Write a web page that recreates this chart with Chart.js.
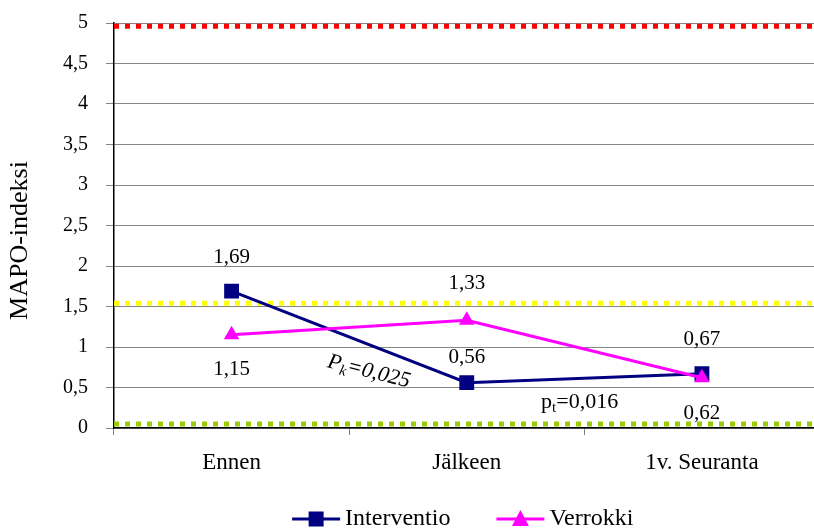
<!DOCTYPE html>
<html>
<head>
<meta charset="utf-8">
<script src="https://cdn.jsdelivr.net/npm/chart.js@4"></script>
<style>
  body { margin: 0; overflow: hidden; background: #fff; }
</style>
</head>
<body>
<canvas id="mapo" width="830" height="530"></canvas>
<script>
const categories = ['Ennen', 'Jälkeen', '1v. Seuranta'];
const interventio = [1.69, 0.56, 0.67];
const verrokki = [1.15, 1.33, 0.62];
const yTicks = [0, 0.5, 1, 1.5, 2, 2.5, 3, 3.5, 4, 4.5, 5];
const yTitle = 'MAPO-indeksi';
// dotted reference levels: red, yellow, green
const refLevels = [4.96, 1.54, 0.05];
const refColors = ['#ff0000', '#ffff00', '#99cc00'];

const FONT = '"Liberation Serif", "Times New Roman", serif';
const fmt = v => String(v).replace('.', ',');

function drawMarker(ctx, style, cx, cy, color) {
    ctx.fillStyle = color;
    if (style === 'rect') {
        ctx.fillRect(cx - 7.5, cy - 7.5, 15, 15);
    } else {
        ctx.beginPath();
        ctx.moveTo(cx, cy - 9);
        ctx.lineTo(cx + 8.5, cy + 7);
        ctx.lineTo(cx - 8.5, cy + 7);
        ctx.closePath();
        ctx.fill();
    }
}

const annotations = {
    id: 'annotations',
    beforeDatasetsDraw(chart) {
        const { ctx, chartArea } = chart;
        const y = chart.scales.y;
        ctx.save();
        ctx.lineWidth = 5;
        ctx.setLineDash([5, 6]);
        refLevels.forEach((lvl, i) => {
            const py = y.getPixelForValue(lvl);
            ctx.strokeStyle = refColors[i];
            ctx.beginPath();
            ctx.moveTo(chartArea.left, py);
            ctx.lineTo(chartArea.right, py);
            ctx.stroke();
        });
        ctx.restore();

        // y axis title, a bit below the middle as in the original
        ctx.save();
        ctx.translate(20, (chartArea.top + chartArea.bottom) / 2 + 15);
        ctx.rotate(-Math.PI / 2);
        ctx.font = '26px ' + FONT;
        ctx.fillStyle = '#000';
        ctx.textAlign = 'center';
        ctx.textBaseline = 'middle';
        ctx.fillText(yTitle, 0, 0);
        ctx.restore();
    },
    afterDatasetsDraw(chart, args, opts) {
        const { ctx } = chart;
        const x = chart.scales.x, y = chart.scales.y;
        ctx.save();
        ctx.fillStyle = '#000';
        ctx.font = '21px ' + FONT;
        ctx.textAlign = 'center';
        ctx.textBaseline = 'middle';
        chart.data.datasets.forEach((ds, di) => {
            const meta = chart.getDatasetMeta(di);
            meta.data.forEach((pt, i) => {
                ctx.fillText(fmt(ds.data[i]), pt.x, pt.y + opts.offsets[di][i]);
            });
        });

        // P_k = 0,025 (italic, rotated)
        ctx.save();
        ctx.translate(x.getPixelForValue(0.585), y.getPixelForValue(0.71));
        ctx.rotate(14 * Math.PI / 180);
        ctx.textAlign = 'left';
        ctx.textBaseline = 'alphabetic';
        const big = 'italic 22px ' + FONT, small = 'italic 15px ' + FONT;
        ctx.font = big; const w1 = ctx.measureText('P').width;
        ctx.font = small; const w2 = ctx.measureText('k').width;
        ctx.font = big; const w3 = ctx.measureText('=0,025').width;
        let sx = -(w1 + w2 + w3) / 2;
        ctx.fillText('P', sx, 7); sx += w1;
        ctx.font = small; ctx.fillText('k', sx, 11); sx += w2;
        ctx.font = big; ctx.fillText('=0,025', sx, 7);
        ctx.restore();

        // p_t = 0,016
        ctx.save();
        ctx.translate(x.getPixelForValue(1.48), y.getPixelForValue(0.33));
        ctx.textAlign = 'left';
        ctx.textBaseline = 'alphabetic';
        const nb = '22px ' + FONT, ns = '15px ' + FONT;
        ctx.font = nb; const a1 = ctx.measureText('p').width;
        ctx.font = ns; const a2 = ctx.measureText('t').width;
        ctx.font = nb; const a3 = ctx.measureText('=0,016').width;
        let tx = -(a1 + a2 + a3) / 2;
        ctx.fillText('p', tx, 7); tx += a1;
        ctx.font = ns; ctx.fillText('t', tx, 11); tx += a2;
        ctx.font = nb; ctx.fillText('=0,016', tx, 7);
        ctx.restore();

        ctx.restore();
    },
    afterDraw(chart) {
        // legend: line + marker, then label
        const { ctx } = chart;
        const x = chart.scales.x;
        const ly = chart.chartArea.bottom + 91;
        ctx.save();
        ctx.font = '24px ' + FONT;
        ctx.textBaseline = 'middle';
        ctx.textAlign = 'left';
        const items = chart.data.datasets.map(ds => ({ ds, tw: ctx.measureText(ds.label).width }));
        const total = items.reduce((s, it) => s + 48 + 5 + it.tw, 0) + 46 * (items.length - 1);
        let lx = x.getPixelForValue(1) - 4 - total / 2;
        items.forEach(({ ds, tw }) => {
            ctx.strokeStyle = ds.borderColor;
            ctx.lineWidth = 3;
            ctx.beginPath();
            ctx.moveTo(lx, ly);
            ctx.lineTo(lx + 48, ly);
            ctx.stroke();
            drawMarker(ctx, ds.pointStyle, lx + 24, ly, ds.borderColor);
            ctx.fillStyle = '#000';
            ctx.fillText(ds.label, lx + 53, ly);
            lx += 48 + 5 + tw + 46;
        });
        ctx.restore();
    }
};

new Chart(document.getElementById('mapo'), {
    type: 'line',
    data: {
        labels: categories,
        datasets: [{
            label: 'Interventio',
            data: interventio,
            borderColor: '#000080',
            backgroundColor: '#000080',
            borderWidth: 3,
            pointStyle: 'rect',
            pointRadius: 10.5,
            pointBorderWidth: 0,
            tension: 0,
            order: 1
        }, {
            label: 'Verrokki',
            data: verrokki,
            borderColor: '#ff00ff',
            backgroundColor: '#ff00ff',
            borderWidth: 3,
            pointStyle: 'triangle',
            pointRadius: 9,
            pointBorderWidth: 0,
            tension: 0,
            order: 0
        }]
    },
    options: {
        responsive: false,
        animation: false,
        layout: { padding: { top: 23, left: 0, right: 6, bottom: 0 } },
        scales: {
            x: {
                offset: true,
                grid: { drawOnChartArea: false, offset: true, tickLength: 7, color: '#808080' },
                border: { color: '#000', width: 1.5 },
                ticks: { color: '#000', padding: 14, font: { family: FONT, size: 23 } },
                afterFit: s => { s.height = 102; }
            },
            y: {
                min: 0,
                max: 5,
                afterBuildTicks: s => { s.ticks = yTicks.map(v => ({ value: v })); },
                afterFit: s => { s.width = 114; s.paddingTop = 0; },
                grid: { color: '#868686', lineWidth: 1, tickLength: 8 },
                border: { color: '#000', width: 1.5 },
                ticks: {
                    color: '#000',
                    padding: 18,
                    font: { family: FONT, size: 20 },
                    callback: v => fmt(v)
                }
            }
        },
        plugins: {
            legend: { display: false },
            tooltip: { enabled: false },
            annotations: {
                offsets: [[-34, -25, -34], [35, -37, 36]]
            }
        }
    },
    plugins: [annotations]
});
</script>
</body>
</html>
